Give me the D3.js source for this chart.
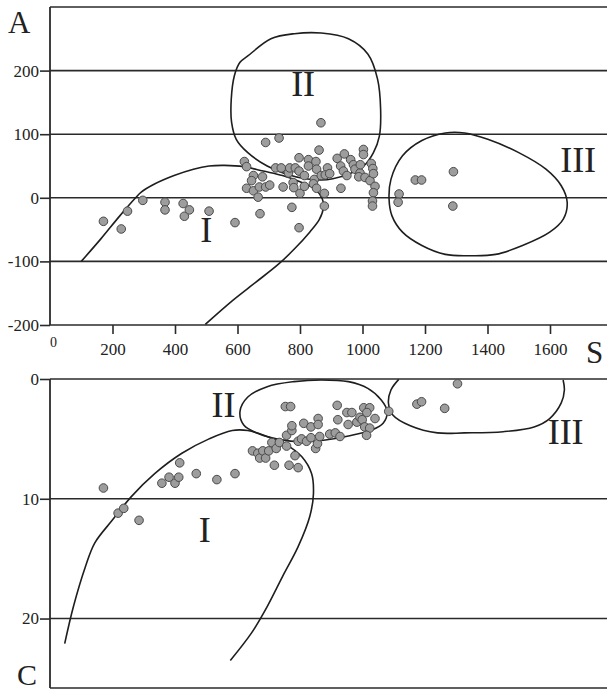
<!DOCTYPE html>
<html>
<head>
<meta charset="utf-8">
<script src="https://cdn.jsdelivr.net/npm/d3@7"></script>
<style>
  body { margin: 0; background: #fff; }
  svg text { font-family: "Liberation Serif", "DejaVu Serif", serif; fill: #222; }
</style>
</head>
<body>
<svg id="chart" width="607" height="690"></svg>
<script>
// ---- data ----
const xTicks = [0, 200, 400, 600, 800, 1000, 1200, 1400, 1600];
const aTicks = [200, 100, 0, -100, -200];
const cTicks = [0, 10, 20];

// panel A points: [S, A]
const pointsA = [
  [171, -37], [228, -49], [248, -21], [297, -4], [368, -7], [368, -19], [426, -9], [430, -29],
  [446, -19], [509, -21], [592, -39], [672, -25], [797, -47], [774, -15], [878, -13], [878, 7],
  [867, 118], [690, 87], [733, 94], [861, 75], [797, 63], [827, 60], [622, 57], [629, 49],
  [651, 35], [645, 27], [629, 15], [651, 11], [666, 1], [670, 17], [690, 17], [703, 20],
  [680, 33], [722, 47], [740, 47], [746, 17], [763, 39], [767, 47], [785, 47], [797, 42],
  [778, 24], [780, 16], [800, 7], [814, 18], [814, 35], [827, 50], [851, 57], [853, 45],
  [846, 29], [843, 22], [853, 15], [868, 35], [888, 47], [881, 36], [895, 38], [919, 62],
  [930, 50], [942, 69], [939, 42], [950, 35], [931, 15], [962, 60], [971, 52], [976, 45],
  [992, 39], [993, 52], [1003, 76], [1003, 68], [988, 33], [1008, 32], [1024, 27], [1028, 54],
  [1033, 46], [1035, 38], [1040, 18], [1035, 8], [1032, -5], [1032, -13], [1117, 6], [1114, -7],
  [1169, 28], [1189, 28], [1291, 41], [1289, -13]
];

// panel C points: [S, C]
const pointsC = [
  [171, 9.1], [218, 11.2], [236, 10.8], [285, 11.8], [358, 8.7], [381, 8.2], [400, 8.7], [412, 8.2],
  [415, 7.0], [468, 7.9], [534, 8.4], [592, 7.9], [648, 6.0], [665, 6.2], [671, 6.6], [681, 6.0],
  [690, 6.6], [700, 6.0], [710, 5.3], [724, 5.8], [734, 5.3], [718, 7.2], [757, 5.6], [765, 7.2],
  [784, 6.4], [794, 7.4], [757, 4.7], [774, 4.3], [774, 3.9], [753, 2.3], [770, 2.3], [794, 5.2],
  [805, 5.0], [812, 3.7], [821, 5.2], [835, 4.0], [835, 4.9], [850, 5.8], [856, 5.4], [858, 3.3],
  [858, 3.8], [863, 4.8], [895, 4.6], [913, 4.5], [928, 4.8], [919, 2.2], [921, 3.4], [950, 2.8],
  [966, 2.8], [954, 3.8], [982, 3.6], [992, 3.2], [999, 3.4], [1004, 2.4], [1023, 2.4], [1014, 2.8],
  [1007, 4.0], [1023, 4.1], [1013, 4.7], [1040, 3.3], [1084, 2.7], [1174, 2.1], [1189, 1.9],
  [1263, 2.45], [1304, 0.4]
];

// field outlines, panel A
const fieldA1 = [
  [100, -100], [162, -65], [224, -28], [274, 0], [292, 9], [336, 22], [397, 35], [459, 45],
  [509, 50], [559, 51], [620, 49], [682, 42], [744, 35], [806, 24], [850, 13], [871, -1],
  [875, -15], [862, -34], [831, -54], [781, -81], [732, -104], [658, -133], [583, -162], [497, -199]
];
const fieldA2 = [
  [633, 223], [707, 250], [782, 258], [868, 259], [955, 250], [1017, 226], [1048, 187], [1058, 139],
  [1054, 97], [1035, 71], [1004, 50], [955, 37], [905, 30], [868, 28], [819, 30], [757, 37],
  [695, 50], [633, 71], [596, 92], [581, 119], [580, 155], [590, 192], [608, 213]
];
const fieldA3 = [
  [1091, 29], [1128, 66], [1190, 90], [1265, 102], [1327, 102], [1401, 92], [1500, 71], [1587, 45],
  [1636, 19], [1655, -7], [1643, -33], [1599, -54], [1512, -75], [1426, -89], [1345, -91],
  [1265, -89], [1190, -75], [1128, -54], [1094, -28], [1085, -2]
];

// field outlines, panel C
const fieldC1 = [
  [47, 22.1], [75, 19.0], [113, 15.7], [143, 13.7], [199, 11.8], [261, 9.8], [335, 7.9], [422, 6.2],
  [509, 5.0], [583, 4.3], [633, 4.3], [695, 4.8], [757, 5.5], [806, 6.5], [837, 7.9], [843, 9.6],
  [831, 11.5], [794, 14.0], [744, 16.5], [695, 19.0], [645, 21.2], [577, 23.5]
];
const fieldC2 = [
  [608, 2.7], [633, 1.5], [695, 0.64], [781, 0.22], [868, 0.08], [955, 0.22], [1017, 0.78],
  [1060, 1.75], [1079, 2.7], [1066, 3.7], [1029, 4.26], [955, 4.76], [881, 5.1], [806, 5.24],
  [732, 5.04], [670, 4.6], [620, 3.84]
];
const fieldC3 = [
  [1116, 0.03], [1091, 0.92], [1083, 2.0], [1097, 3.0], [1153, 3.9], [1240, 4.5], [1326, 4.5],
  [1450, 4.4], [1549, 4.0], [1599, 3.3], [1636, 2.0], [1646, 0.92], [1642, 0.08]
];

// labels
const fieldLabelsA = [["I", 500, -70], ["II", 810, 160], ["III", 1690, 40]];
const fieldLabelsC = [["I", 495, 13.6], ["II", 555, 3.2], ["III", 1650, 5.4]];

// ---- drawing ----
const svg = d3.select('#chart');
const W = 607;
const serif = '"Liberation Serif", "DejaVu Serif", serif';

const x = d3.scaleLinear().domain([0, 1600]).range([50, 550]);
const yA = d3.scaleLinear().domain([-200, 300]).range([325, 7]);
const yC = d3.scaleLinear().domain([0, 25.8]).range([379, 688]);

const lineCol = '#2a2a2a';

const drawPanel = (yScale, ticks, gridVals, frameTop, frameBottom) => {
  const g = svg.append('g');

  // horizontal grid / frame lines, running out to the right edge
  g.selectAll('line.grid')
    .data(gridVals)
    .enter()
    .append('line')
    .attr('x1', x(0))
    .attr('x2', W)
    .attr('y1', d => yScale(d))
    .attr('y2', d => yScale(d))
    .attr('stroke', lineCol)
    .attr('stroke-width', 1.6);

  // left frame
  g.append('line')
    .attr('x1', x(0)).attr('x2', x(0))
    .attr('y1', yScale(frameTop)).attr('y2', yScale(frameBottom))
    .attr('stroke', lineCol)
    .attr('stroke-width', 1.8);

  const axis = d3.axisLeft(yScale)
    .tickValues(ticks)
    .tickSize(10)
    .tickPadding(1)
    .tickFormat(d => String(d));

  const ax = g.append('g')
    .attr('transform', `translate(${x(0)},0)`)
    .call(axis)
    .attr('font-family', serif);
  ax.select('.domain').remove();
  ax.selectAll('line').attr('stroke', lineCol).attr('stroke-width', 1.6);
  ax.selectAll('text')
    .style('font-family', serif)
    .style('font-size', '17px')
    .attr('fill', '#222');
  return g;
};

const gA = drawPanel(yA, aTicks, [300, 200, 100, 0, -100, -200], 300, -200);
const gC = drawPanel(yC, cTicks, [0, 10, 20, 25.8], 0, 25.8);

// x axis between the panels
const xAxis = d3.axisBottom(x)
  .tickValues(xTicks)
  .tickSize(9)
  .tickPadding(9)
  .tickFormat(d => String(d));

const xg = svg.append('g')
  .attr('transform', `translate(0,${yA(-200)})`)
  .call(xAxis)
  .attr('font-family', serif);
xg.select('.domain').remove();
xg.selectAll('line').attr('stroke', lineCol).attr('stroke-width', 1.6);
xg.selectAll('text')
  .style('font-family', serif)
  .style('font-size', '17px')
  .attr('fill', '#222');
xg.selectAll('.tick').filter(d => d === 0).select('line').remove();
xg.selectAll('.tick').filter(d => d === 0).select('text')
  .style('font-size', '14px')
  .attr('x', 3)
  .attr('y', 12);

// field outlines
const outline = (g, yScale, pts, closed) => {
  const line = d3.line()
    .x(d => x(d[0]))
    .y(d => yScale(d[1]))
    .curve(closed ? d3.curveCatmullRomClosed : d3.curveCatmullRom);
  g.append('path')
    .attr('d', line(pts))
    .attr('fill', 'none')
    .attr('stroke', '#1e1e1e')
    .attr('stroke-width', 1.6);
};

outline(gA, yA, fieldA1, false);
outline(gA, yA, fieldA2, true);
outline(gA, yA, fieldA3, true);
outline(gC, yC, fieldC1, false);
outline(gC, yC, fieldC2, true);
outline(gC, yC, fieldC3, false);

// samples
const dots = (g, yScale, pts) => {
  g.selectAll('circle')
    .data(pts)
    .enter()
    .append('circle')
    .attr('cx', d => x(d[0]))
    .attr('cy', d => yScale(d[1]))
    .attr('r', 4.3)
    .attr('fill', '#9d9d9d')
    .attr('stroke', '#4a4a4a')
    .attr('stroke-width', 1);
};
dots(gA, yA, pointsA);
dots(gC, yC, pointsC);

// roman numerals for the fields
const numerals = (g, yScale, labels) => {
  g.selectAll('text.field')
    .data(labels)
    .enter()
    .append('text')
    .attr('class', 'field')
    .attr('x', d => x(d[1]))
    .attr('y', d => yScale(d[2]))
    .attr('text-anchor', 'middle')
    .style('font-size', '36px')
    .text(d => d[0]);
};
numerals(gA, yA, fieldLabelsA);
numerals(gC, yC, fieldLabelsC);

// axis letters
svg.append('text').attr('x', 8).attr('y', 33).style('font-size', '31px').text('A');
svg.append('text').attr('x', 586).attr('y', 363).style('font-size', '31px').text('S');
svg.append('text').attr('x', 17).attr('y', 685).style('font-size', '30px').text('C');
</script>
</body>
</html>
